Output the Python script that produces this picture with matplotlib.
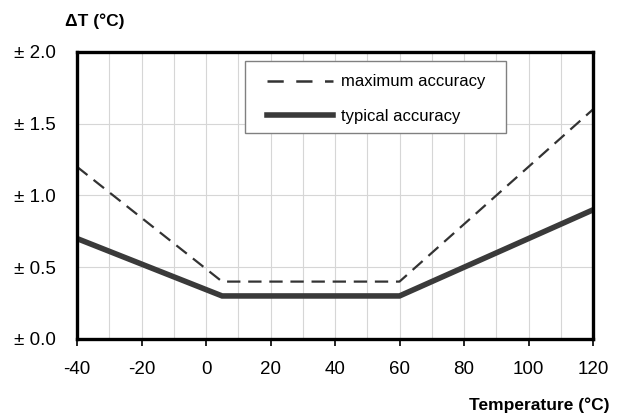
import matplotlib
matplotlib.use('Agg')
import matplotlib.pyplot as plt
from matplotlib.patches import Rectangle
from matplotlib.lines import Line2D

plt.rcParams['font.family'] = ['Liberation Sans', 'DejaVu Sans']
plt.rcParams['axes.unicode_minus'] = False

# accuracy limits
temp = [-40, 5, 60, 120]
max_acc = [1.2, 0.4, 0.4, 1.6]
typ_acc = [0.7, 0.3, 0.3, 0.9]

xticks = [-40, -20, 0, 20, 40, 60, 80, 100, 120]
yticks = [0.0, 0.5, 1.0, 1.5, 2.0]
ylabels = ['± 0.0', '± 0.5', '± 1.0', '± 1.5', '± 2.0']

fig = plt.figure(figsize=(6.19, 4.18), dpi=100)
ax = fig.add_axes([0.1244, 0.189, 0.8336, 0.6866])

ax.plot(temp, max_acc, color='#333333', lw=1.6, dashes=(6, 3.5))
ax.plot(temp, typ_acc, color='#3a3a3a', lw=4, solid_joinstyle='miter')

ax.set_xlim(-40, 120)
ax.set_ylim(0, 2)
ax.set_xticks(xticks)
ax.set_xticks(range(-30, 120, 20), minor=True)
ax.set_yticks(yticks)
ax.set_yticklabels(ylabels)
ax.grid(True, which='both', color='#d6d6d6', lw=0.8)
ax.set_axisbelow(True)
ax.tick_params(axis='x', which='major', length=5, width=1.2, direction='out', labelsize=13.5, pad=11)
ax.tick_params(axis='x', which='minor', length=0)
ax.tick_params(axis='y', length=0, labelsize=13.5, pad=15)
for s in ax.spines.values():
    s.set_linewidth(2.4)
    s.set_color('black')

# legend box drawn separately so the padding matches the original
ax.add_patch(Rectangle((0.3256, 0.718), 0.505, 0.2506, transform=ax.transAxes,
                       facecolor='white', edgecolor='#808080', lw=1, zorder=3))
handles = [Line2D([], [], color='#333333', lw=1.8, dashes=(6.5, 5)),
           Line2D([], [], color='#3a3a3a', lw=4)]
leg = ax.legend(handles, ['maximum accuracy', 'typical accuracy'],
                loc='upper left', bbox_to_anchor=(0.368, 0.922), borderaxespad=0,
                borderpad=0, fontsize=12, handlelength=3.95, handletextpad=0.5,
                labelspacing=1.17, frameon=False)
leg.set_zorder(4)

fig.text(0.105, 0.95, 'ΔT (°C)', fontsize=12.5, fontweight='bold', ha='left', va='center')
fig.text(0.985, 0.03, 'Temperature (°C)', fontsize=12.5, fontweight='bold', ha='right', va='center')

fig.savefig('out.png', dpi=100)
